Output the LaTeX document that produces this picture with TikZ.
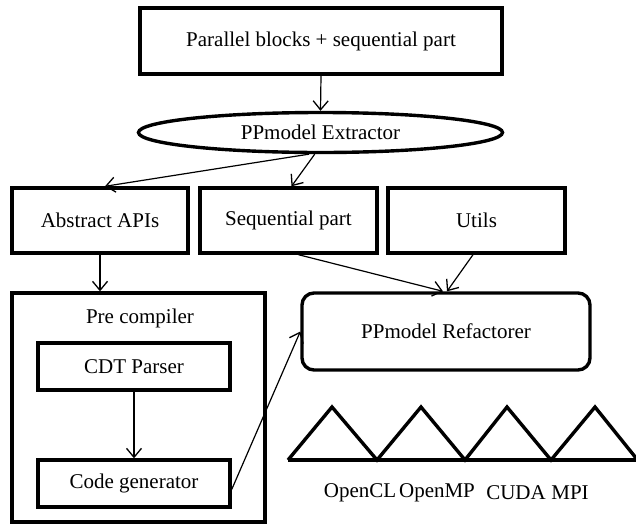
\documentclass[tikz,border=0pt]{standalone}
\usepackage{fontspec}
\setmainfont{Liberation Serif}
\usetikzlibrary{arrows.meta,shapes.geometric}
\begin{document}
\begin{tikzpicture}[x=1pt,y=-1pt,
  lbl/.style={font=\fontsize{21}{25}\selectfont},
  box/.style={draw,line width=3.4pt,rectangle,inner sep=0pt,lbl},
  conn/.style={line width=1.2pt,-{Straight Barb[length=9pt,width=15pt,line width=1.3pt]}}]
\useasboundingbox (0,0) rectangle (636,525);
\fill[white] (0,0) rectangle (636,525);
% nodes
\node[box,minimum width=362,minimum height=66] (top) at (321,41) {Parallel blocks + sequential part};
\node[draw,ellipse,line width=3.4pt,inner sep=0pt,minimum width=364,minimum height=40,lbl] (ell) at (320.5,132.5) {PPmodel Extractor};
\node[box,minimum width=176,minimum height=65] (abs) at (100,220.5) {Abstract APIs};
\node[box,minimum width=177,minimum height=65] (seq) at (288.5,220.5) {Sequential part};
\node[box,minimum width=177,minimum height=65] (uils) at (476.5,220.5) {Utils};
\node[box,minimum width=253,minimum height=229] (pre) at (138.5,407.5) {};
\node[lbl] (pretitle) at (140,318) {Pre compiler};
\node[box,minimum width=192,minimum height=47] (cdt) at (134,366.5) {CDT Parser};
\node[box,minimum width=192,minimum height=47] (code) at (134,483.5) {Code generator};
\node[box,rounded corners=12pt,minimum width=288,minimum height=77] (ref) at (446,331.5) {PPmodel Refactorer};
% triangles
\draw[line width=3.4pt,line join=miter] (288,460) -- (332,407) -- (377,460) -- (421,407) -- (465,460) -- (507,407) -- (551,460) -- (595,407) -- (636,458);
\draw[line width=3.4pt] (288,460) -- (636,460);
\node[lbl] (ocl) at (360,493) {OpenCL};
\node[lbl] (omp) at (437,493) {OpenMP};
\node[lbl] (cuda) at (516,493) {CUDA};
\node[lbl] (mpi) at (570,493) {MPI};
% connectors
\draw[conn] (top.south) -- (ell.north);
\draw[conn] (ell.-118) -- ([xshift=5pt]abs.north);
\draw[conn] (ell.-105) -- ([xshift=3pt]seq.north);
\draw[conn] (abs.south) -- (abs.south |- pre.north);
\draw[conn] ([xshift=10pt]seq.south) -- ([xshift=-3pt]ref.north);
\draw[conn] ([xshift=-3.5pt]uils.south) -- ([xshift=1pt]ref.north);
\draw[conn] (cdt.south) -- (code.north);
\draw[conn] ([yshift=-6pt]code.east) -- (ref.west);
\end{tikzpicture}
\end{document}
